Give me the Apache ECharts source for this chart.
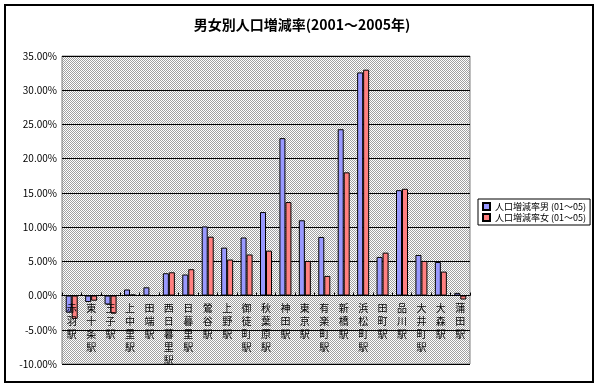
<!DOCTYPE html>
<html><head><meta charset="utf-8">
<script src="https://cdn.jsdelivr.net/npm/echarts@6/dist/echarts.min.js"></script>
<style>html,body{margin:0;padding:0;background:#fff}#c{width:599px;height:387px}</style>
</head><body><div id="c"></div>
<script>
const categories = ['赤羽駅','東十条駅','王子駅','上中里駅','田端駅','西日暮里駅','日暮里駅','鶯谷駅','上野駅','御徒町駅','秋葉原駅','神田駅','東京駅','有楽町駅','新橋駅','浜松町駅','田町駅','品川駅','大井町駅','大森駅','蒲田駅'];
const maleRate = [-2.5,-0.95,-1.3,0.88,1.2,3.26,3.07,10.1,7.0,8.48,12.2,23.0,11.0,8.56,24.3,32.6,5.64,15.4,5.93,4.9,0.39];
const femaleRate = [-3.4,-0.75,-2.65,0.15,0.0,3.4,3.85,8.6,5.26,6.0,6.56,13.66,5.06,2.87,18.0,33.0,6.27,15.6,5.06,3.5,-0.58];
const seriesNames = ['人口増減率男 (01～05)','人口増減率女 (01～05)'];
const yTicks = {min:-10, max:35, step:5};

const pc = document.createElement('canvas');
pc.width = 2; pc.height = 2;
const g = pc.getContext('2d');
g.fillStyle = '#ffffff'; g.fillRect(0,0,2,2);
g.fillStyle = '#a0a0a0'; g.fillRect(0,0,1,1); g.fillRect(1,1,1,1);

const font = '"Noto Sans CJK JP", sans-serif';
const chart = echarts.init(document.getElementById('c'), null, {renderer:'canvas'});
chart.setOption({
  animation:false,
  backgroundColor:'#fff',
  title:{text:'男女別人口増減率(2001～2005年)', left:297, top:13, textAlign:'center',
    textStyle:{fontFamily:font, fontSize:14, fontWeight:'bold', color:'#000'}},
  legend:{orient:'vertical', left:478, top:199, padding:[3,4,3,4], itemGap:2,
    itemWidth:7, itemHeight:7, icon:'rect', borderColor:'#000', borderWidth:1,
    textStyle:{fontFamily:font, fontSize:9, color:'#000'}, data:seriesNames},
  grid:{left:62, top:56, right:129, bottom:23, show:true, borderColor:'#808080', borderWidth:1,
    outerBoundsMode:'none', containLabel:false,
    backgroundColor:{image:pc, repeat:'repeat'}},
  xAxis:{type:'category', data:categories, z:10,
    axisLine:{onZero:true, lineStyle:{color:'#000', width:1}},
    axisTick:{show:true, inside:true, length:3, lineStyle:{color:'#000'}},
    axisLabel:{interval:0, margin:-62, fontFamily:font, fontSize:10, color:'#000', lineHeight:13,
      formatter:v=>v.split('').join('\n'), verticalAlign:'top'}},
  yAxis:{type:'value', min:yTicks.min, max:yTicks.max, interval:yTicks.step,
    axisLine:{show:false}, axisTick:{show:false},
    axisLabel:{fontFamily:font, fontSize:10, color:'#000', margin:5, formatter:v=>v.toFixed(2)+'%'},
    splitLine:{show:true, lineStyle:{color:'#000', width:1}}},
  series:[
    {name:seriesNames[0], type:'bar', data:maleRate, barWidth:6, barGap:'0%',
      itemStyle:{color:'#9999ff', borderColor:'#000', borderWidth:1}},
    {name:seriesNames[1], type:'bar', data:femaleRate, barWidth:6, barGap:'0%',
      itemStyle:{color:'#ff8080', borderColor:'#000', borderWidth:1}}
  ],
  graphic:[{type:'rect', shape:{x:5, y:5, width:588, height:377}, style:{fill:null, stroke:'#000', lineWidth:2}, silent:true, z:100}]
});
</script></body></html>
